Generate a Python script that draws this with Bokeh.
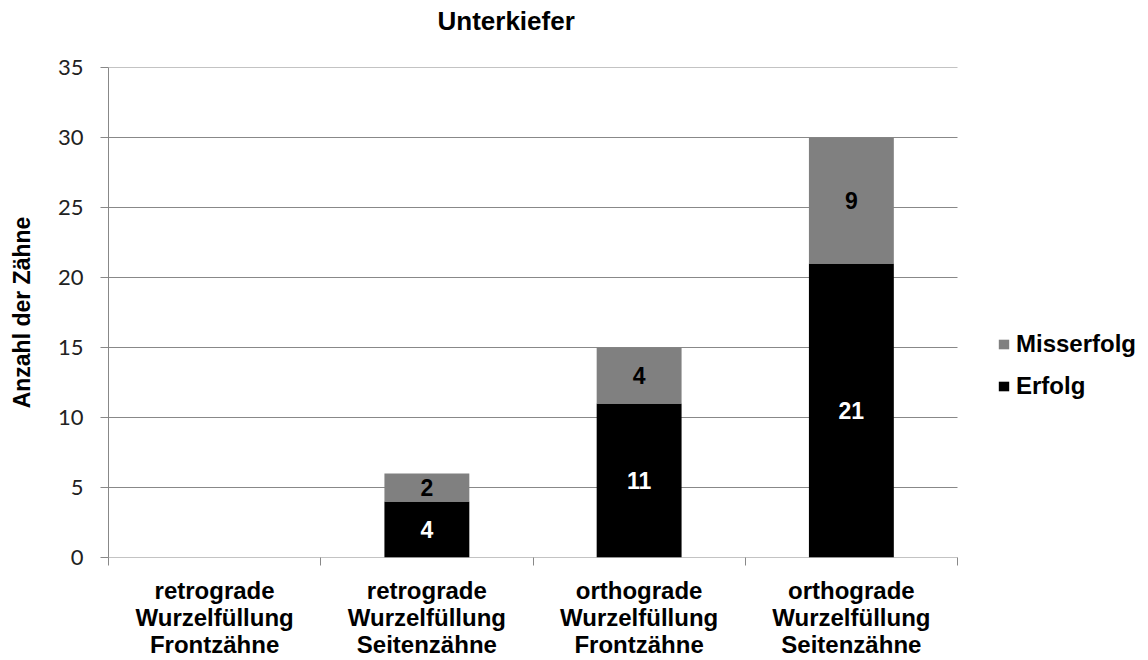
from bokeh.plotting import figure
from bokeh.models import Range1d, FixedTicker, LabelSet, ColumnDataSource, Legend, LegendItem
from bokeh.core.properties import value
from bokeh.embed import file_html
from bokeh.resources import INLINE

# ---- data ----
title_text = "Unterkiefer"
y_label = "Anzahl der Zähne"
categories = [
    "retrograde\nWurzelfüllung\nFrontzähne",
    "retrograde\nWurzelfüllung\nSeitenzähne",
    "orthograde\nWurzelfüllung\nFrontzähne",
    "orthograde\nWurzelfüllung\nSeitenzähne",
]
erfolg = [0, 4, 11, 21]
misserfolg = [0, 2, 4, 9]
series_names = ["Erfolg", "Misserfolg"]
y_ticks = [0, 5, 10, 15, 20, 25, 30, 35]
y_max = 35

# ---- layout (pixels) ----
W, H = 1148, 660
LEFT, TOP, BOTTOM = 108, 67, 103
BAR_AREA_RIGHT = 957          # where the category area ends
n = len(categories)
centers = [i + 0.5 for i in range(n)]
bounds = [float(i) for i in range(n + 1)]
# frame extends to the right edge so that the legend can sit inside it
x_end = n * (W - LEFT) / (BAR_AREA_RIGHT - LEFT)

BOLD_FONT = "Liberation Sans"
GRID = "#888888"

p = figure(width=W, height=H, output_backend="svg", toolbar_location=None,
           x_range=Range1d(0, x_end), y_range=Range1d(0, y_max),
           min_border_left=LEFT, min_border_right=0,
           min_border_top=TOP, min_border_bottom=BOTTOM)
p.outline_line_color = None
p.background_fill_color = "white"
p.border_fill_color = "white"
p.xgrid.grid_line_color = None
p.ygrid.grid_line_color = None

# horizontal grid lines only across the category area
p.segment(x0=[0] * len(y_ticks), x1=[n] * len(y_ticks), y0=y_ticks, y1=y_ticks,
          line_color=GRID, line_width=1)

# title (trailing empty line lifts it towards the top edge)
p.title.text = title_text + "\n"
p.title.align = "left"
p.title.offset = 329
p.title.standoff = 4
p.title.text_font = BOLD_FONT
p.title.text_font_style = "bold"
p.title.text_font_size = "26px"
p.title.text_color = "black"

# y axis
p.yaxis.ticker = FixedTicker(ticks=y_ticks)
p.yaxis.major_tick_out = 8
p.yaxis.major_tick_in = 0
p.yaxis.minor_tick_out = 0
p.yaxis.minor_tick_in = 0
p.yaxis.axis_line_color = GRID
p.yaxis.major_tick_line_color = GRID
p.yaxis.major_label_text_font = "Lato"
p.yaxis.major_label_text_font_size = "22px"
p.yaxis.major_label_text_color = "#222222"
p.yaxis.major_label_standoff = 17
p.yaxis.axis_label = y_label
p.yaxis.axis_label_text_font = BOLD_FONT
p.yaxis.axis_label_text_font_style = "bold"
p.yaxis.axis_label_text_font_size = "23px"
p.yaxis.axis_label_text_color = "black"
p.yaxis.axis_label_standoff = 20

# x axis: labels at category centres, ticks at category boundaries
p.xaxis.ticker = FixedTicker(ticks=centers, minor_ticks=bounds)
p.xaxis.major_label_overrides = {c: lab for c, lab in zip(centers, categories)}
p.xaxis.major_tick_out = 0
p.xaxis.major_tick_in = 0
p.xaxis.minor_tick_out = 8
p.xaxis.minor_tick_in = 0
p.xaxis.minor_tick_line_color = GRID
p.xaxis.axis_line_color = None
p.xaxis.major_label_text_font = BOLD_FONT
p.xaxis.major_label_text_font_style = "bold"
p.xaxis.major_label_text_font_size = "24px"
p.xaxis.major_label_text_color = "black"
p.xaxis.major_label_text_line_height = 1.0
p.xaxis.major_label_standoff = 11

src = ColumnDataSource(dict(x=centers, Erfolg=erfolg, Misserfolg=misserfolg))
rs = p.vbar_stack(series_names, x="x", width=0.4, fill_color=["#000000", "#808080"],
                  line_color=None, source=src)
r_erf, r_mis = rs

legend = Legend(items=[LegendItem(label="Misserfolg", renderers=[r_mis]),
                       LegendItem(label="Erfolg", renderers=[r_erf])],
                location=(BAR_AREA_RIGHT - LEFT + 40, 157), orientation="vertical",
                glyph_width=13, glyph_height=12, label_standoff=6,
                label_text_font=BOLD_FONT, label_text_font_style="bold",
                label_text_font_size="24px", label_text_color="black",
                label_height=28, spacing=14,
                padding=0, margin=0, border_line_color=None, background_fill_alpha=0)
p.add_layout(legend)

# value labels
e_src = ColumnDataSource(dict(
    x=[c for c, e in zip(centers, erfolg) if e > 0],
    y=[e / 2 for e in erfolg if e > 0],
    t=[str(e) for e in erfolg if e > 0]))
m_src = ColumnDataSource(dict(
    x=[c for c, m in zip(centers, misserfolg) if m > 0],
    y=[e + m / 2 for e, m in zip(erfolg, misserfolg) if m > 0],
    t=[str(m) for m in misserfolg if m > 0]))
for s, col in ((e_src, "white"), (m_src, "black")):
    p.add_layout(LabelSet(x="x", y="y", text="t", source=s, text_align="center",
                          text_baseline="middle", text_font=value(BOLD_FONT),
                          text_font_style="bold", text_font_size="23px", text_color=col))

open("out.html", "w").write(file_html(p, INLINE))
